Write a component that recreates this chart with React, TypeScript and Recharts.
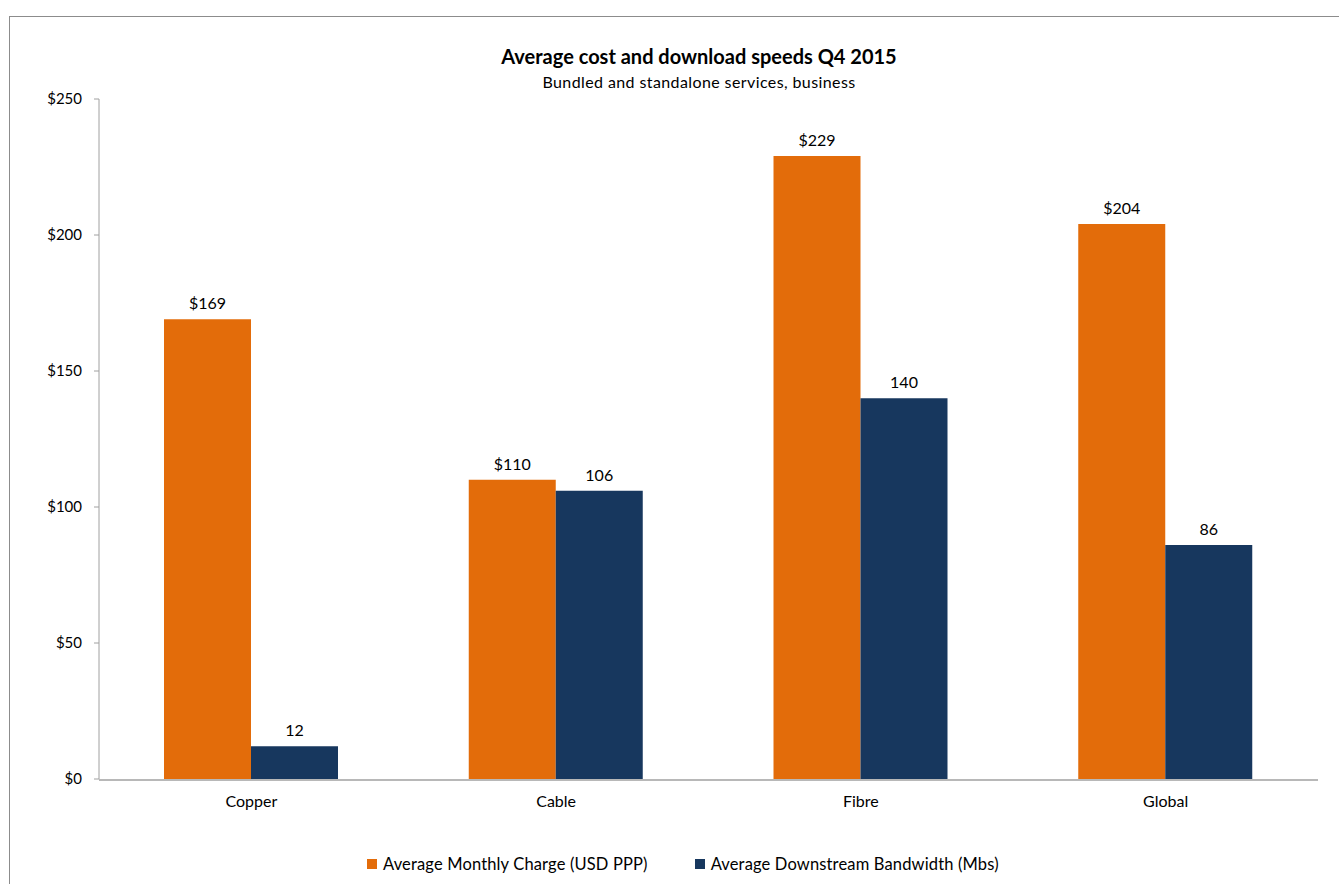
import { Bar, BarChart, LabelList, XAxis, YAxis } from "recharts";

const categories = ["Copper", "Cable", "Fibre", "Global"];
const monthlyCharge = [169, 110, 229, 204];
const downstreamBandwidth = [12, 106, 140, 86];
const yTicks = [0, 50, 100, 150, 200, 250];
const edgeTicks = [0, 1, 2, 3, 4];
const seriesNames = [
  "Average Monthly Charge (USD PPP)",
  "Average Downstream Bandwidth (Mbs)",
];
const seriesColors = ["#E36C0A", "#17375E"];

const title = "Average cost and download speeds Q4 2015";
const subtitle = "Bundled and standalone services, business";

const FONT = "Lato, 'Noto Sans', sans-serif";
const AXIS = "#a0a0a0";

const data = categories.map((name, i) => ({
  name,
  charge: monthlyCharge[i],
  bandwidth: downstreamBandwidth[i],
}));

export default function App() {
  return (
    <div
      style={{
        position: "fixed",
        left: 0,
        top: 0,
        width: 1339,
        height: 884,
        overflow: "hidden",
        background: "#fff",
        fontFamily: FONT,
        color: "#000",
      }}
    >
      <div
        style={{
          position: "absolute",
          left: 9,
          top: 16,
          width: 1390,
          height: 900,
          border: "1px solid #8c8c8c",
        }}
      />
      <div
        style={{
          position: "absolute",
          left: 0,
          width: 1398,
          top: 44,
          textAlign: "center",
          fontWeight: 700,
          fontSize: 20,
          lineHeight: "24px",
        }}
      >
        {title}
      </div>
      <div
        style={{
          position: "absolute",
          left: 0,
          width: 1398,
          top: 72,
          textAlign: "center",
          fontSize: 16,
          letterSpacing: 0.4,
          lineHeight: "20px",
        }}
      >
        {subtitle}
      </div>

      <div style={{ position: "absolute", left: 0, top: 0 }}>
        <BarChart
          width={1339}
          height={884}
          data={data}
          margin={{ top: 99, right: 21, bottom: 103, left: 0 }}
          barCategoryGap={65}
          barGap={0}
        >
          <XAxis
            xAxisId="cat"
            dataKey="name"
            height={1}
            axisLine={false}
            tickLine={false}
            tickSize={0}
            tickMargin={17}
            interval={0}
            tick={{ fill: "#000", fontSize: 16, fontFamily: FONT }}
          />
          <XAxis
            xAxisId="edge"
            type="number"
            dataKey="edge"
            domain={[0, 4]}
            allowDataOverflow
            ticks={edgeTicks}
            interval={0}
            height={1}
            tick={false}
            tickSize={5}
            tickLine={{ stroke: AXIS }}
            axisLine={{ stroke: AXIS, strokeWidth: 1.5 }}
          />
          <YAxis
            width={99}
            domain={[0, 250]}
            ticks={yTicks}
            interval={0}
            tickFormatter={(v: number) => `$${v}`}
            tickSize={5}
            tickMargin={12}
            tickLine={{ stroke: AXIS }}
            axisLine={{ stroke: AXIS }}
            tick={{ fill: "#000", fontSize: 15, fontFamily: FONT }}
          />
          <Bar
            xAxisId="cat"
            dataKey="charge"
            name={seriesNames[0]}
            fill={seriesColors[0]}
            isAnimationActive={false}
          >
            <LabelList
              dataKey="charge"
              position="top"
              offset={10}
              formatter={(v: number) => `$${v}`}
              style={{ fill: "#000", fontSize: 16, fontFamily: FONT }}
            />
          </Bar>
          <Bar
            xAxisId="cat"
            dataKey="bandwidth"
            name={seriesNames[1]}
            fill={seriesColors[1]}
            isAnimationActive={false}
          >
            <LabelList
              dataKey="bandwidth"
              position="top"
              offset={10}
              style={{ fill: "#000", fontSize: 16, fontFamily: FONT }}
            />
          </Bar>
        </BarChart>
      </div>

      <div
        style={{
          position: "absolute",
          left: 367,
          top: 854,
          display: "flex",
          alignItems: "center",
          fontSize: 16.5,
          letterSpacing: 0.15,
          lineHeight: "20px",
        }}
      >
        {seriesNames.map((n, i) => (
          <div
            key={n}
            style={{
              display: "flex",
              alignItems: "center",
              marginRight: i === 0 ? 47 : 0,
            }}
          >
            <span
              style={{
                display: "inline-block",
                width: 10,
                height: 10,
                background: seriesColors[i],
                marginRight: 6,
              }}
            />
            <span>{n}</span>
          </div>
        ))}
      </div>
    </div>
  );
}
